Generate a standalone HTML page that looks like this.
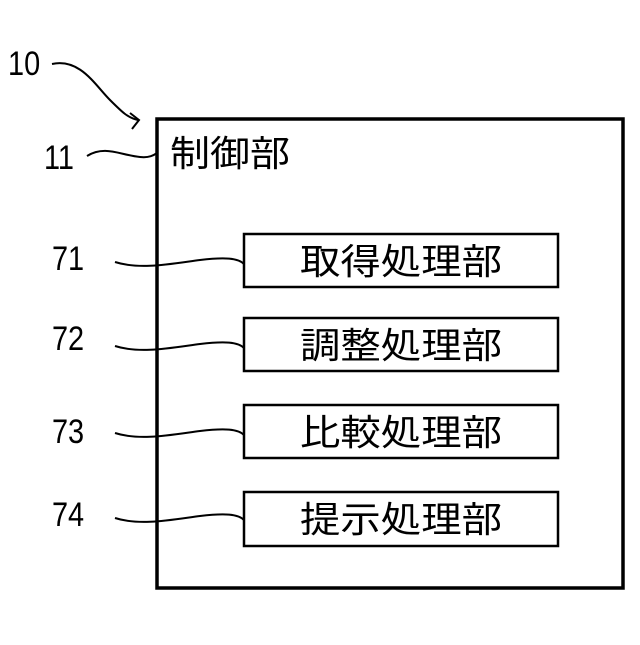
<!DOCTYPE html>
<html><head><meta charset="utf-8"><style>
body{margin:0;background:#fff;}
svg text{font-family:"Liberation Sans","Noto Sans CJK JP",sans-serif;fill:#000;}
</style></head><body>
<svg width="640" height="640" xmlns="http://www.w3.org/2000/svg">
<rect x="157" y="119" width="466" height="469" fill="none" stroke="#000" stroke-width="3.5"/>
<g fill="none" stroke="#000" stroke-width="2.5">
<rect x="244" y="234" width="314" height="53"/>
<rect x="244" y="318" width="314" height="53"/>
<rect x="244" y="405" width="314" height="53"/>
<rect x="244" y="492" width="314" height="54"/>
</g>
<g fill="none" stroke="#000" stroke-width="2">
<path d="M52 64 C80 58 95 85 110 100 C122 112 128 118 138 120"/>
<path d="M130 113 L139 120 L132 129"/>
<path d="M87 156 C105 145 120 155 140 157 C150 158 154 155 157 153"/>
<path d="M115 262 C140 270 170 264 200 260 C225 257 238 258 244 264"/>
<path d="M115 346 C140 354 170 348 200 344 C225 341 238 342 244 348"/>
<path d="M115 433 C140 441 170 435 200 431 C225 428 238 429 244 435"/>
<path d="M115 518 C140 526 170 520 200 516 C225 513 238 514 244 520"/>
</g>
<g font-size="34">
<text x="8" y="75" transform="translate(8 0) scale(0.85 1) translate(-8 0)">10</text>
<text x="44" y="169" transform="translate(44 0) scale(0.85 1) translate(-44 0)">11</text>
<text x="52" y="270" transform="translate(52 0) scale(0.85 1) translate(-52 0)">71</text>
<text x="52" y="350" transform="translate(52 0) scale(0.85 1) translate(-52 0)">72</text>
<text x="52" y="443" transform="translate(52 0) scale(0.85 1) translate(-52 0)">73</text>
<text x="52" y="526" transform="translate(52 0) scale(0.85 1) translate(-52 0)">74</text>
</g>
<g font-size="36">
<text x="170" y="166" textLength="120" lengthAdjust="spacingAndGlyphs">制御部</text>
<text x="300" y="274" textLength="202" lengthAdjust="spacingAndGlyphs">取得処理部</text>
<text x="300" y="358" textLength="202" lengthAdjust="spacingAndGlyphs">調整処理部</text>
<text x="300" y="445" textLength="202" lengthAdjust="spacingAndGlyphs">比較処理部</text>
<text x="300" y="532" textLength="202" lengthAdjust="spacingAndGlyphs">提示処理部</text>
</g>
</svg>
</body></html>
